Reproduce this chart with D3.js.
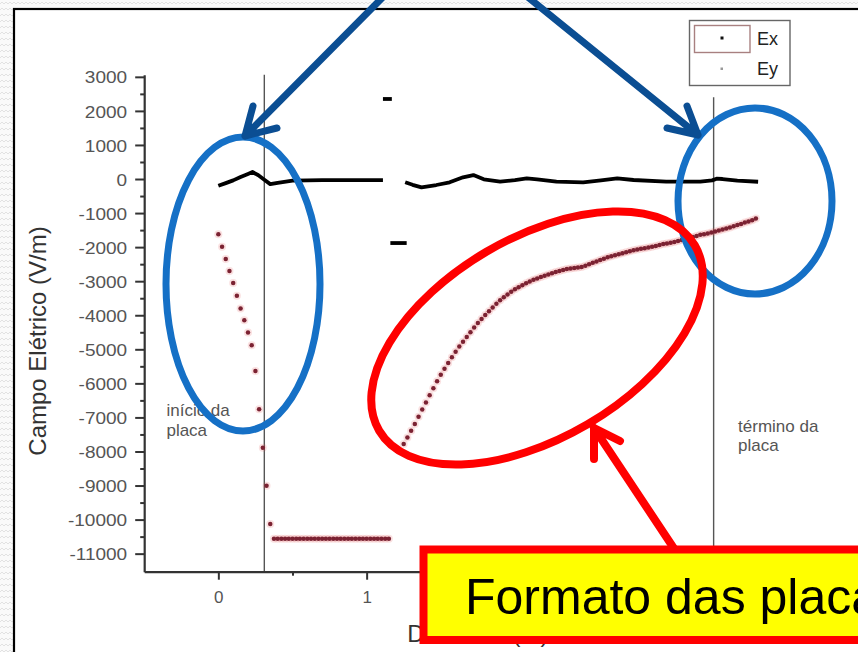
<!DOCTYPE html>
<html>
<head>
<meta charset="utf-8">
<script src="https://cdn.jsdelivr.net/npm/d3@7"></script>
<style>
  body { margin: 0; background: #fff; }
  svg { display: block; }
  text { font-family: Arial, "Liberation Sans", sans-serif; }
</style>
</head>
<body>
<svg id="chart" width="858" height="652"></svg>
<script>
// ---- data: electric field along the plate (V/m) vs distance (m) ----
const yTickValues = [3000, 2000, 1000, 0, -1000, -2000, -3000, -4000, -5000, -6000, -7000, -8000, -9000, -10000, -11000];
const yMinorValues = [2500, 1500, 500, -500, -1500, -2500, -3500, -4500, -5500, -6500, -7500, -8500, -9500, -10500];
const xTickValues = [0, 1];
const xMinorValues = [0.5];

// Ey is sampled every 0.025 m
const eySampleStep = 0.025;
// first run starts at 0 m: entry ramp then the plateau under the plate
const eyRunA = [
  -1620, -1990, -2350, -2700, -3050, -3430, -3800, -4150, -4510, -4880,
  -5640, -6760, -7890, -9010, -10130,
  -10560, -10560, -10560, -10560, -10560, -10560, -10560, -10560,
  -10560, -10560, -10560, -10560, -10560, -10560, -10560, -10560,
  -10560, -10560, -10560, -10560, -10560, -10560, -10560, -10560,
  -10560, -10560, -10560, -10560, -10560, -10560, -10560, -10560
];
// second run starts at 1.25 m
const eyRunBStart = 1.25;
const eyRunB = [
  -7780, -7590, -7390, -7190, -6980, -6770, -6560, -6350, -6140, -5940,
  -5750, -5570, -5400, -5230, -5070, -4920, -4780, -4640, -4500, -4360,
  -4230, -4110, -3990, -3880, -3770, -3660, -3560, -3470, -3390, -3310,
  -3240, -3180, -3120, -3060, -3010, -2960, -2920, -2880, -2840, -2800,
  -2770, -2730, -2700, -2670, -2640, -2630, -2610, -2600, -2580, -2550,
  -2500, -2460, -2420, -2380, -2340, -2300, -2270, -2240, -2210, -2180,
  -2150, -2120, -2090, -2070, -2050, -2030, -2010, -1990, -1970, -1940,
  -1910, -1890, -1870, -1850, -1820, -1790, -1760, -1730, -1700, -1670,
  -1640, -1620, -1600, -1570, -1540, -1510, -1480, -1450, -1420, -1390,
  -1350, -1320, -1280, -1250, -1210, -1160
];

// Ex as separate runs of [distance, value]
const exRun1 = [[0, -200], [0.05, -120], [0.1, -40], [0.15, 60], [0.2, 150], [0.23, 205],
  [0.27, 110], [0.31, -20], [0.35, -150], [0.4, -110], [0.5, -45], [0.7, -30], [0.9, -30], [1.11, -30]];
const exRun2 = [[1.11, 2350], [1.17, 2350]];
const exRun3 = [[1.16, -1880], [1.27, -1880]];
const exRun4 = [[1.26, -97], [1.31, -170], [1.37, -244], [1.47, -176], [1.56, -97], [1.65, 50],
  [1.72, 117], [1.79, -9], [1.9, -79], [2.0, -30], [2.08, 21], [2.15, -9], [2.28, -79],
  [2.46, -97], [2.58, -40], [2.69, 21], [2.8, -29], [3.02, -79], [3.25, -79], [3.33, -40],
  [3.36, 10], [3.4, 0], [3.5, -50], [3.64, -80]];
const exRuns = [exRun1, exRun2, exRun3, exRun4];

// plate start / end markers: distance and top of the marker line
const plateMarkers = [[0.31, 3060], [3.34, 2400]];

// ---- scales ----
const svg = d3.select("#chart");
const x = d3.scaleLinear().domain([-0.5, 4]).range([144.2, 811.5]);
const y = d3.scaleLinear().domain([-11530, 3060]).range([571.7, 74.8]);

// ---- page background and frame ----
const defs = svg.append("defs");
const pat = defs.append("pattern").attr("id", "zig").attr("width", 8).attr("height", 6)
  .attr("patternUnits", "userSpaceOnUse");
pat.append("rect").attr("width", 8).attr("height", 6).attr("fill", "#fafafa");
pat.append("path").attr("d", "M0,4 L2,2 L4,4 L6,2 L8,4").attr("fill", "none")
  .attr("stroke", "#e2e2e2").attr("stroke-width", 1);
svg.append("rect").attr("width", 858).attr("height", 652).attr("fill", "url(#zig)");
svg.append("rect").attr("x", 14).attr("y", 9).attr("width", 860).attr("height", 660)
  .attr("fill", "#fff").attr("stroke", "#000").attr("stroke-width", 2.2);

// ---- plate markers ----
svg.append("g").selectAll("line").data(plateMarkers).join("line")
  .attr("x1", d => x(d[0])).attr("x2", d => x(d[0]))
  .attr("y1", d => y(d[1])).attr("y2", y(-11530))
  .attr("stroke", "#555").attr("stroke-width", 1.4);

// ---- axes ----
const axisColor = "#333";
const gy = svg.append("g").attr("transform", `translate(${x(-0.5)},0)`);
gy.call(d3.axisLeft(y).tickValues(yTickValues).tickSize(9).tickSizeOuter(0).tickFormat(d => String(d)));
gy.append("g").call(d3.axisLeft(y).tickValues(yMinorValues).tickSize(4).tickSizeOuter(0).tickFormat(""))
  .select(".domain").remove();
gy.selectAll("line").attr("stroke", axisColor).attr("stroke-width", 2);
gy.selectAll(".domain").attr("stroke", axisColor).attr("stroke-width", 2.2);
gy.selectAll("text").attr("x", 0).attr("dy", "0.36em")
  .attr("transform", "translate(-17,0) scale(1.12,1)")
  .attr("font-size", 17).attr("fill", "#555").attr("font-family", "Arial, 'Liberation Sans', sans-serif");

const gx = svg.append("g").attr("transform", `translate(0,${y(-11530)})`);
gx.call(d3.axisBottom(x).tickValues(xTickValues).tickSize(8).tickSizeOuter(0).tickFormat(d => String(d)));
gx.append("g").call(d3.axisBottom(x).tickValues(xMinorValues).tickSize(4).tickSizeOuter(0).tickFormat(""))
  .select(".domain").remove();
gx.selectAll("line").attr("stroke", axisColor).attr("stroke-width", 2);
gx.selectAll(".domain").attr("stroke", axisColor).attr("stroke-width", 2.2);
gx.selectAll("text").attr("y", 19).attr("font-size", 17).attr("fill", "#555")
  .attr("font-family", "Arial, 'Liberation Sans', sans-serif");

// axis titles
svg.append("text")
  .attr("transform", "translate(46,341) rotate(-90)")
  .attr("text-anchor", "middle").attr("font-size", 24).attr("fill", "#333")
  .text("Campo Elétrico (V/m)");
svg.append("text")
  .attr("x", (x(-0.5) + x(4)) / 2).attr("y", 641.7)
  .attr("text-anchor", "middle").attr("font-size", 24).attr("fill", "#333")
  .text("Distância (m)");

// ---- Ex: thick black line ----
const exLine = d3.line().x(d => x(d[0])).y(d => y(d[1]));
svg.append("g").selectAll("path").data(exRuns).join("path")
  .attr("d", exLine).attr("fill", "none").attr("stroke", "#000")
  .attr("stroke-width", 3.8).attr("stroke-linejoin", "round");

// ---- Ey: maroon dots ----
const eyPoints = eyRunA.map((v, i) => [i * eySampleStep, v])
  .concat(eyRunB.map((v, i) => [eyRunBStart + i * eySampleStep, v]));
const gey = svg.append("g");
gey.selectAll("circle.halo").data(eyPoints).join("circle").attr("class", "halo")
  .attr("cx", d => x(d[0])).attr("cy", d => y(d[1])).attr("r", 4)
  .attr("fill", "rgba(230,90,90,0.18)");
gey.selectAll("circle.dot").data(eyPoints).join("circle").attr("class", "dot")
  .attr("cx", d => x(d[0])).attr("cy", d => y(d[1])).attr("r", 2.25)
  .attr("fill", "#7b2232");

// ---- notes at the plate ends ----
const noteStart = ["início da", "placa"];
const noteEnd = ["término da", "placa"];
function note(lines, px, py) {
  const t = svg.append("text").attr("font-size", 17).attr("fill", "#555");
  lines.forEach((s, i) => t.append("tspan").attr("x", px).attr("y", py + i * 19.5).text(s));
}
note(noteStart, x(-0.35), y(-6960));
note(noteEnd, x(3.505), y(-7420));

// ---- legend ----
const lg = svg.append("g");
lg.append("rect").attr("x", 689.5).attr("y", 20.5).attr("width", 100.5).attr("height", 65)
  .attr("fill", "#fff").attr("stroke", "#666").attr("stroke-width", 1.4);
lg.append("rect").attr("x", 694.5).attr("y", 25.5).attr("width", 55.5).attr("height", 27)
  .attr("fill", "#fff").attr("stroke", "#a88080").attr("stroke-width", 1.4);
lg.append("rect").attr("x", 720.5).attr("y", 36.5).attr("width", 3).attr("height", 3).attr("fill", "#111");
lg.append("rect").attr("x", 720.5).attr("y", 67.5).attr("width", 2.5).attr("height", 2.5).attr("fill", "#999");
lg.append("text").attr("x", 757).attr("y", 45).attr("font-size", 18).attr("fill", "#222").text("Ex");
lg.append("text").attr("x", 757).attr("y", 75).attr("font-size", 18).attr("fill", "#222").text("Ey");

// ---- slide callouts ----
const blue = "#1570c6", darkBlue = "#0b4e93", red = "#ff0000";
const co = svg.append("g").attr("fill", "none").attr("stroke-linecap", "round").attr("stroke-linejoin", "round");
co.append("ellipse").attr("cx", 243).attr("cy", 284).attr("rx", 77).attr("ry", 147)
  .attr("stroke", blue).attr("stroke-width", 7);
co.append("ellipse").attr("cx", 755).attr("cy", 201).attr("rx", 77).attr("ry", 93)
  .attr("stroke", blue).attr("stroke-width", 7);
co.append("path").attr("d", "M386,-6 L245,136 M253,106 L245,136 L277,128")
  .attr("stroke", darkBlue).attr("stroke-width", 7);
co.append("path").attr("d", "M524,-6 L698,135 M687,106 L698,135 L667,128")
  .attr("stroke", darkBlue).attr("stroke-width", 7);
co.append("ellipse").attr("cx", 537).attr("cy", 338).attr("rx", 183).attr("ry", 100)
  .attr("transform", "rotate(-30.4,537,338)")
  .attr("stroke", red).attr("stroke-width", 8);
co.append("path").attr("d", "M675,550 L594,428 M594,459 L594,428 L620,441")
  .attr("stroke", red).attr("stroke-width", 8);

svg.append("rect").attr("x", 423.5).attr("y", 549.5).attr("width", 460).attr("height", 90.5)
  .attr("fill", "#ffff00").attr("stroke", red).attr("stroke-width", 8);
svg.append("text").attr("x", 465).attr("y", 614).attr("font-size", 50).attr("fill", "#000")
  .text("Formato das placas");
</script>
</body>
</html>
